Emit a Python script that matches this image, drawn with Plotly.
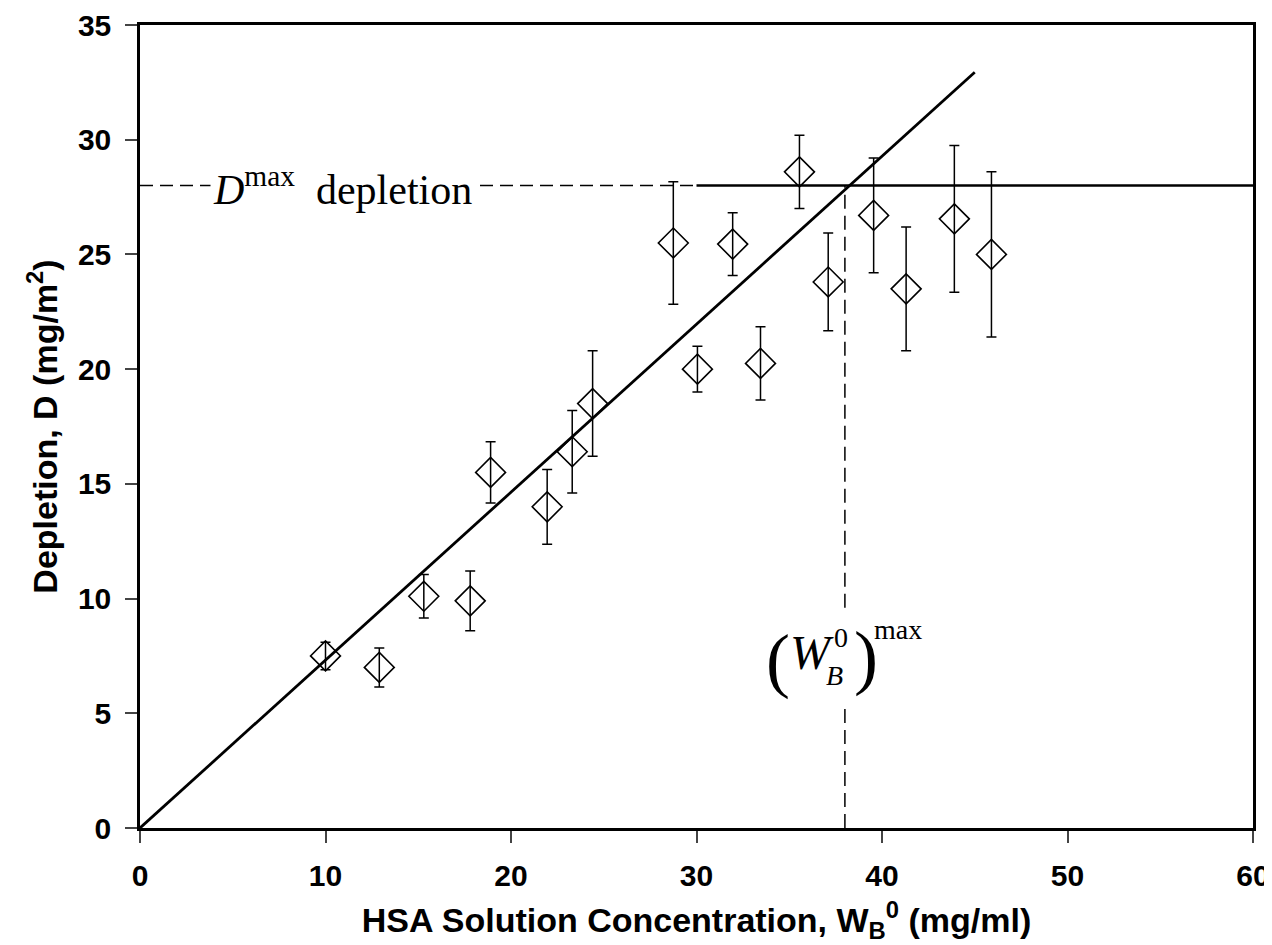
import plotly.graph_objects as go

# Data
conc = [10.0, 12.9, 15.3, 17.8, 18.9, 21.95, 23.3, 24.4, 28.75, 30.05, 31.95, 33.45, 35.55, 37.1, 39.55, 41.3, 43.9, 45.9]
depl = [7.5, 7.0, 10.1, 9.9, 15.5, 14.0, 16.4, 18.5, 25.5, 20.0, 25.45, 20.25, 28.6, 23.8, 26.7, 23.5, 26.55, 25.0]
err = [0.6, 0.85, 0.95, 1.3, 1.33, 1.63, 1.8, 2.3, 2.67, 1.0, 1.37, 1.6, 1.6, 2.13, 2.5, 2.7, 3.2, 3.6]

fit_x = [0, 45]
fit_slope = 0.732
fit_y = [v * fit_slope for v in fit_x]

d_max = 28.0
w_max = 38.0
dash_end = 30.0
x_range = [0, 60]
y_range = [0, 35]
x_ticks = [0, 10, 20, 30, 40, 50, 60]
y_ticks = [0, 5, 10, 15, 20, 25, 30, 35]

fig = go.Figure()

# horizontal dashed segment (D max) and solid continuation
fig.add_trace(go.Scatter(x=[0, dash_end], y=[d_max, d_max], mode="lines",
                         line=dict(color="black", width=1.5, dash="13px,7px"), hoverinfo="skip"))
fig.add_trace(go.Scatter(x=[dash_end, x_range[1]], y=[d_max, d_max], mode="lines",
                         line=dict(color="black", width=2.5), hoverinfo="skip"))
# vertical dashed line at W max (broken around label)
fig.add_trace(go.Scatter(x=[w_max, w_max, None, w_max, w_max], y=[0, 5.4, None, 9.6, d_max], mode="lines",
                         line=dict(color="black", width=1.5, dash="14px,7px"), hoverinfo="skip"))
# fit line
fig.add_trace(go.Scatter(x=fit_x, y=fit_y, mode="lines",
                         line=dict(color="black", width=2.8), hoverinfo="skip"))
# data
fig.add_trace(go.Scatter(x=conc, y=depl, mode="markers",
                         marker=dict(symbol="diamond-open", size=23, color="black", line=dict(width=1.6, color="black")),
                         error_y=dict(type="data", array=err, visible=True, color="black", thickness=1.5, width=5)))

serif = "Liberation Serif, Times New Roman, serif"
ann = []
ann.append(dict(x=10.94, y=d_max, xref="x", yref="y", text="<i>D</i><sup>max</sup>&nbsp; depletion",
                showarrow=False, font=dict(family=serif, size=42, color="black"),
                bgcolor="white", borderpad=2, yshift=-1))
ann.append(dict(x=34.4, y=7.32, xref="x", yref="y", text="(", showarrow=False,
                font=dict(family=serif, size=72, color="black")))
ann.append(dict(x=36.2, y=7.65, xref="x", yref="y", text="<i>W</i>", showarrow=False,
                font=dict(family=serif, size=48, color="black")))
ann.append(dict(x=37.8, y=8.3, xref="x", yref="y", text="0", showarrow=False,
                font=dict(family=serif, size=28, color="black")))
ann.append(dict(x=37.45, y=6.65, xref="x", yref="y", text="<i>B</i>", showarrow=False,
                font=dict(family=serif, size=28, color="black")))
ann.append(dict(x=39.15, y=7.45, xref="x", yref="y", text=")", showarrow=False,
                font=dict(family=serif, size=72, color="black")))
ann.append(dict(x=40.85, y=8.65, xref="x", yref="y", text="max", showarrow=False,
                font=dict(family=serif, size=28, color="black")))

sans = "Liberation Sans, Arial, sans-serif"
fig.update_layout(
    width=1264, height=937,
    margin=dict(l=132, r=19, t=17, b=117),
    paper_bgcolor="white", plot_bgcolor="white",
    showlegend=False,
    annotations=ann,
    font=dict(family=sans, color="black"),
    xaxis=dict(range=x_range, tickvals=x_ticks, ticks="outside", ticklen=12, tickwidth=2,
               showline=True, linewidth=2.5, linecolor="black", mirror=True, showgrid=False, zeroline=False,
               automargin=False, ticklabelstandoff=7,
               tickfont=dict(family=sans, size=30, color="black", weight="bold"),
               title=dict(text="HSA Solution Concentration, W<sub>B</sub><sup>0</sup> (mg/ml)",
                          font=dict(family=sans, size=34, color="black", weight="bold"), standoff=18)),
    yaxis=dict(range=y_range, tickvals=y_ticks, ticks="outside", ticklen=12, tickwidth=2,
               showline=True, linewidth=2.5, linecolor="black", mirror=True, showgrid=False, zeroline=False,
               automargin=False, ticklabelstandoff=8,
               tickfont=dict(family=sans, size=30, color="black", weight="bold"),
               title=dict(text="Depletion, D (mg/m<sup>2</sup>)",
                          font=dict(family=sans, size=34, color="black", weight="bold"), standoff=10)),
)

fig.write_html("out.html")
